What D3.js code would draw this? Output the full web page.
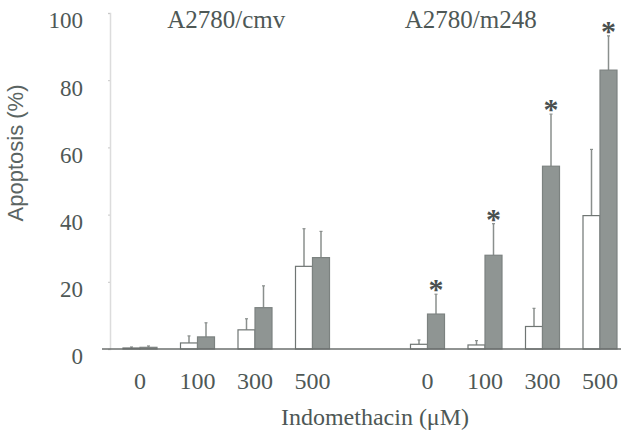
<!DOCTYPE html>
<html>
<head>
<meta charset="utf-8">
<script src="https://cdn.jsdelivr.net/npm/d3@7"></script>
<style>
  body { margin: 0; background: #fff; }
  text { fill: #4e5856; }
</style>
</head>
<body>
<svg id="chart" width="621" height="435"></svg>
<script>
// values (% apoptosis, mean and upper error)
var groups = ["A2780/cmv", "A2780/m248"];
var doses = ["0", "100", "300", "500"];
var yTicks = [0, 20, 40, 60, 80, 100];

var cmvOpen = [0.3, 1.8, 5.7, 24.6];
var cmvOpenErr = [0.3, 2.1, 3.3, 11.2];
var cmvFilled = [0.5, 3.6, 12.3, 27.2];
var cmvFilledErr = [0.4, 4.2, 6.5, 7.8];

var m248Open = [1.4, 1.2, 6.7, 39.7];
var m248OpenErr = [1.3, 1.3, 5.4, 19.7];
var m248Filled = [10.4, 27.9, 54.4, 83.0];
var m248FilledErr = [5.9, 9.4, 15.5, 10.2];
var m248Star = [true, true, true, true];

var svg = d3.select("svg#chart");

var y = d3.scaleLinear().domain([0, 100]).range([349, 13]);

var x0 = d3.scaleBand()
    .domain(groups)
    .range([111.25, 628.75])
    .paddingInner(0.2);

var x1 = d3.scaleBand()
    .domain(doses)
    .range([0, x0.bandwidth()]);

var xs = d3.scaleBand()
    .domain(["open", "filled"])
    .range([-17, 17]);

// flatten into one row per bar
var bars = [];
doses.forEach(function(d, i) {
  bars.push({g: groups[0], dose: d, s: "open", v: cmvOpen[i], e: cmvOpenErr[i], star: false});
  bars.push({g: groups[0], dose: d, s: "filled", v: cmvFilled[i], e: cmvFilledErr[i], star: false});
  bars.push({g: groups[1], dose: d, s: "open", v: m248Open[i], e: m248OpenErr[i], star: false});
  bars.push({g: groups[1], dose: d, s: "filled", v: m248Filled[i], e: m248FilledErr[i], star: m248Star[i]});
});

function center(g, dose) { return x0(g) + x1(dose) + x1.bandwidth() / 2; }
function barX(d) { return center(d.g, d.dose) + xs(d.s); }

// y axis (faint)
var yAxis = svg.append("g")
    .attr("transform", "translate(110,0)")
    .call(d3.axisLeft(y).tickValues(yTicks).tickSize(2).tickPadding(25));
yAxis.select(".domain").attr("stroke", "#dcdcdc").attr("stroke-width", 1.5);
yAxis.selectAll(".tick line").attr("stroke", "#c8c8c8");
yAxis.selectAll(".tick text")
    .attr("dy", "0.65em")
    .attr("font-family", "Liberation Serif")
    .attr("font-size", 23)
    .style("fill", "#4e5856");

// error bars (upward only)
var err = svg.append("g").selectAll("g")
    .data(bars)
    .enter().append("g");
err.append("line")
    .attr("x1", function(d) { return barX(d) + xs.bandwidth() / 2; })
    .attr("x2", function(d) { return barX(d) + xs.bandwidth() / 2; })
    .attr("y1", function(d) { return y(d.v); })
    .attr("y2", function(d) { return y(d.v + d.e); })
    .attr("stroke", "#8a8f8d")
    .attr("stroke-width", 1.5);
err.append("line")
    .attr("x1", function(d) { return barX(d) + xs.bandwidth() / 2 - 1.5; })
    .attr("x2", function(d) { return barX(d) + xs.bandwidth() / 2 + 1.5; })
    .attr("y1", function(d) { return y(d.v + d.e); })
    .attr("y2", function(d) { return y(d.v + d.e); })
    .attr("stroke", "#8a8f8d")
    .attr("stroke-width", 1.2);

svg.append("g").selectAll("rect")
    .data(bars)
    .enter().append("rect")
      .attr("x", barX)
      .attr("y", function(d) { return y(d.v); })
      .attr("width", xs.bandwidth())
      .attr("height", function(d) { return y(0) - y(d.v); })
      .attr("fill", function(d) { return d.s == "open" ? "#ffffff" : "#8f9593"; })
      .attr("stroke", function(d) { return d.s == "open" ? "#6f7573" : "#7c8280"; })
      .attr("stroke-width", 1.2);

// significance stars
svg.append("g").selectAll("text")
    .data(bars.filter(function(d) { return d.star; }))
    .enter().append("text")
      .attr("x", function(d) { return barX(d) + xs.bandwidth() / 2; })
      .attr("y", function(d) { return y(d.v + d.e) + 5; })
      .attr("text-anchor", "middle")
      .attr("font-family", "Liberation Serif")
      .attr("font-weight", "bold")
      .attr("font-size", 30)
      .style("fill", "#4a504f")
      .text("*");

// baseline
svg.append("line")
    .attr("x1", 102).attr("x2", 621)
    .attr("y1", y(0)).attr("y2", y(0))
    .attr("stroke", "#6b6f6e")
    .attr("stroke-width", 1.5);

// dose labels
var doseLabels = [];
groups.forEach(function(g) { doses.forEach(function(d) { doseLabels.push({g: g, dose: d}); }); });
svg.append("g").selectAll("text")
    .data(doseLabels)
    .enter().append("text")
      .attr("x", function(d) { return center(d.g, d.dose); })
      .attr("y", 389)
      .attr("text-anchor", "middle")
      .attr("font-family", "Liberation Serif")
      .attr("font-size", 24)
      .text(function(d) { return d.dose; });

// group titles
svg.append("g").selectAll("text")
    .data(groups)
    .enter().append("text")
      .attr("x", function(d) { return x0(d) + x0.bandwidth() / 2 + (d == groups[0] ? 0 : -43); })
      .attr("y", 28)
      .attr("text-anchor", "middle")
      .attr("font-family", "Liberation Serif")
      .attr("font-size", 25)
      .text(function(d) { return d; });

svg.append("text")
    .attr("x", 375)
    .attr("y", 425)
    .attr("text-anchor", "middle")
    .attr("font-family", "Liberation Serif")
    .attr("font-size", 24)
    .text("Indomethacin (\u03bcM)");

svg.append("text")
    .attr("transform", "translate(23,153) rotate(-90)")
    .attr("text-anchor", "middle")
    .attr("font-family", "Liberation Sans")
    .attr("font-size", 22)
    .style("fill", "#5a6462")
    .text("Apoptosis (%)");
</script>
</body>
</html>
